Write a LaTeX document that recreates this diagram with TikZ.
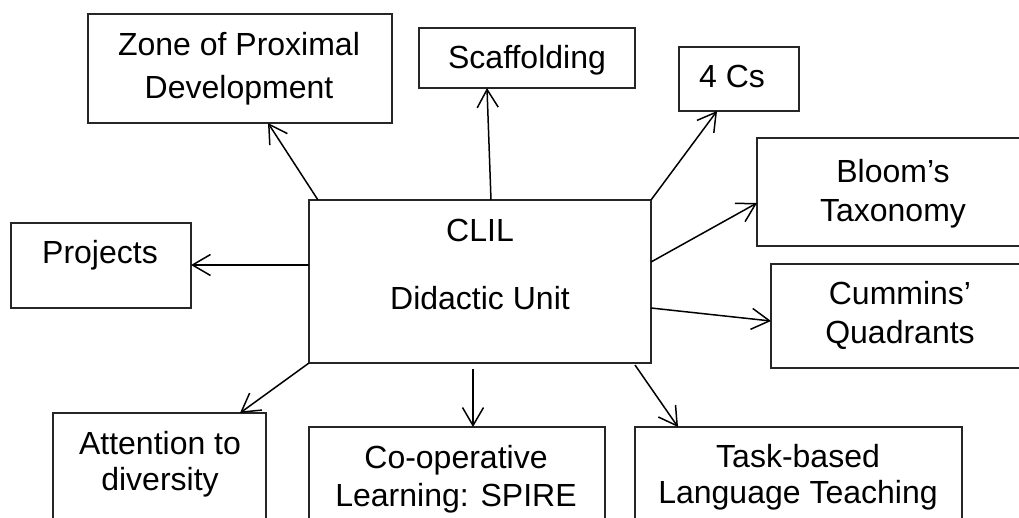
\documentclass[tikz,border=0pt]{standalone}
\usepackage{fontspec}
\setmainfont{Liberation Sans}
\usetikzlibrary{arrows.meta}
\begin{document}
\begin{tikzpicture}[x=1pt,y=-1pt,
  box/.style={draw=black!85,line width=1.3pt,inner sep=0pt,outer sep=0pt,anchor=north west},
  lbl/.style={inner sep=0pt,outer sep=0pt,align=center,anchor=north,font=\fontsize{32}{38}\selectfont},
  conn/.style={draw=black,line width=1.5pt,-{Straight Barb[length=18pt,width=21pt,line width=1.5pt]}}]
\useasboundingbox (0,0) rectangle (1019,517);
\clip (0,0) rectangle (1019,517);
% boxes
\node[box,minimum width=304pt,minimum height=109pt] (zpd) at (88,14) {};
\node[box,minimum width=216pt,minimum height=60pt] (scaf) at (419,28) {};
\node[box,minimum width=120pt,minimum height=64pt] (fourc) at (679,47) {};
\node[box,minimum width=342pt,minimum height=163pt] (clil) at (309,200) {};
\node[box,minimum width=290pt,minimum height=108pt] (bloom) at (757,138) {};
\node[box,minimum width=280pt,minimum height=104pt] (cummins) at (771,264) {};
\node[box,minimum width=180pt,minimum height=85pt] (projects) at (11,223) {};
\node[box,minimum width=213pt,minimum height=140pt] (attention) at (53,413) {};
\node[box,minimum width=296pt,minimum height=140pt] (coop) at (309,427) {};
\node[box,minimum width=327pt,minimum height=140pt] (task) at (635,427) {};
% labels
\node[lbl] (zpdT) at (239,28.4) {\strut Zone of Proximal\\[5pt]Development};
\node[lbl] (scafT) at (527,41.4) {\strut Scaffolding};
\node[lbl] (fourcT) at (732,60.4) {\strut 4 Cs};
\node[lbl] (clilT) at (480,214.4) {\strut CLIL\\[30pt]Didactic Unit};
\node[lbl] (bloomT) at (893,155.4) {\strut Bloom’s\\[1pt]Taxonomy};
\node[lbl] (cumminsT) at (900,277.4) {\strut Cummins’\\[1pt]Quadrants};
\node[lbl] (projectsT) at (100,236.4) {\strut Projects};
\node[lbl] (attentionT) at (160,427.4) {\strut Attention to\\[-2pt]diversity};
\node[lbl] (coopT) at (456,441.4) {\strut Co-operative\\Learning: SPIRE};
\node[lbl] (taskT) at (798,440.4) {\strut Task-based\\[-2pt]Language Teaching};
% connectors
\draw[conn] ([xshift=9pt]clil.north west) -- ([xshift=28pt]zpd.south);
\draw[conn] ([xshift=182pt]clil.north west) -- ([xshift=-40pt]scaf.south);
\draw[conn] (clil.north east) -- ([xshift=38pt]fourc.south west);
\draw[conn] ([yshift=-62pt]clil.north east) -- ([yshift=-65pt]bloom.north west);
\draw[conn] ([yshift=-108pt]clil.north east) -- ([yshift=-57pt]cummins.north west);
\draw[conn] ([yshift=-65pt]clil.north west) -- ([yshift=-42pt]projects.north east);
\draw[conn] (clil.south west) -- ([xshift=187pt]attention.north west);
\draw[conn] ([xshift=164pt,yshift=-6pt]clil.south west) -- ([xshift=164pt]coop.north west);
\draw[conn] ([xshift=-16pt,yshift=-2pt]clil.south east) -- ([xshift=43pt]task.north west);
\end{tikzpicture}
\end{document}
